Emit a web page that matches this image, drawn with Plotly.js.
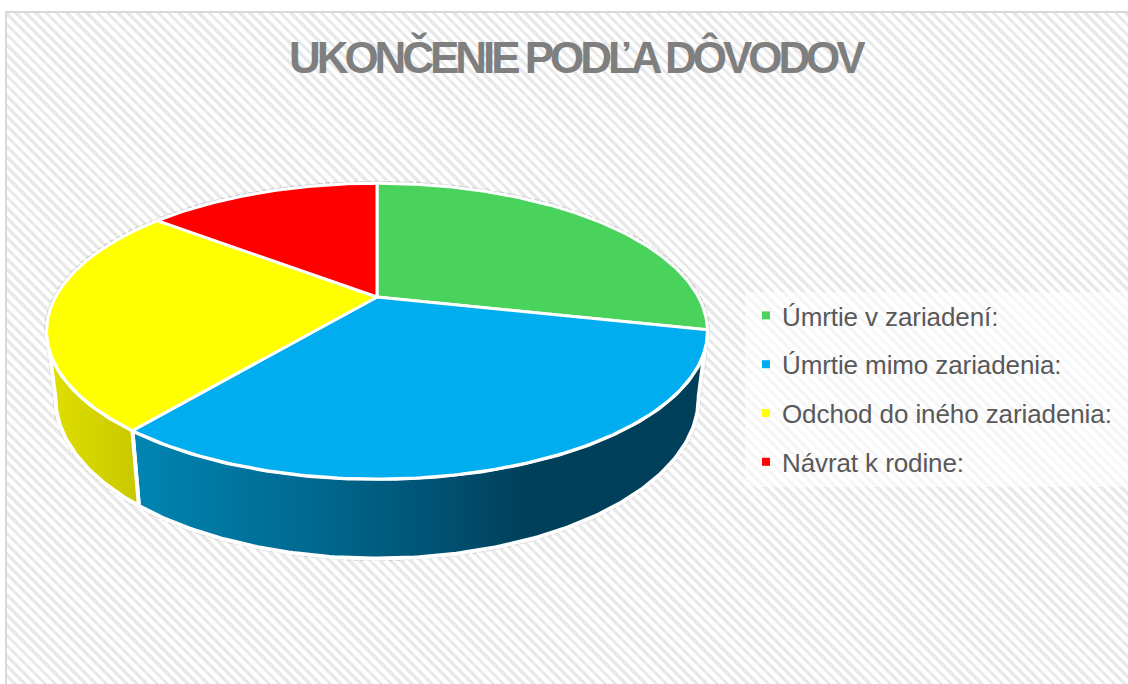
<!DOCTYPE html>
<html><head><meta charset="utf-8">
<script src="https://cdn.plot.ly/plotly-3.0.1.min.js"></script>
<style>
html,body{margin:0;padding:0;background:#fff;overflow:hidden}
#frame{position:absolute;left:5px;top:11px;width:1123px;height:673px;border:2px solid #d9d9d9;border-right:none;border-bottom:none;box-sizing:border-box;
background:repeating-linear-gradient(45deg,#ffffff 0,#ffffff 3.9px,#e9e9e9 3.9px,#e9e9e9 7.2px);}
#chart{position:absolute;left:0;top:0;width:1128px;height:684px}
.gtitle{letter-spacing:-4.05px}
.legendtext{letter-spacing:-0.1px}
.legend .scatterpts{transform:translate(24px,0)}
</style></head><body>
<div id="frame"></div><div id="chart"></div>
<script>
const categories=["Úmrtie v zariadení:","Úmrtie mimo zariadenia:","Odchod do iného zariadenia:","Návrat k rodine:"];
const values=[8,9,7,4];
const colors=["#49d35c","#00aeef","#ffff00","#ff0000"];
const titleText="UKONČENIE PODĽA DÔVODOV";

// Perspective projection of a tilted disk onto the plot axes
const cx=377,k=0.2308;
const topFace={cy:297,A:321.5,B:140};
const bottomFace={cy:361,A:313,B:152};
function proj(f,deg){
  const a=deg*Math.PI/180,u=Math.sin(a),v=-Math.cos(a),d=1-k*v;
  return [cx+f.A*u/d,f.cy+f.B*v/d];
}
function arc(f,a0,a1){
  const n=Math.max(2,Math.ceil(Math.abs(a1-a0)*1.5)),p=[];
  for(let i=0;i<=n;i++)p.push(proj(f,a0+(a1-a0)*i/n));
  return p;
}
const total=values.reduce((s,v)=>s+v,0);
let acc=0;
const spans=values.map(v=>{const s=[acc,acc+v/total*360];acc=s[1];return s;});

const wallScales={
 1:[[0,"#0085b3"],[0.3,"#006a91"],[0.55,"#005070"],[0.68,"#00405a"],[1,"#003f5a"]],
 2:[[0,"#e0e000"],[1,"#c8c800"]]
};
const traces=[];
const silhouette=360-spans[0][1];
// faint outer outline of the whole solid
const outline=arc(topFace,silhouette,360).concat(arc(topFace,0,spans[0][1]),arc(bottomFace,spans[0][1],silhouette));
outline.push(outline[0]);
traces.push({type:"scatter",mode:"lines",x:outline.map(p=>p[0]),y:outline.map(p=>p[1]),
  line:{color:"rgba(130,130,130,0.35)",width:5,dash:"5px,2px"},hoverinfo:"skip",showlegend:false});
// side walls
[[1,spans[1][0],spans[1][1]],[2,spans[2][0],silhouette]].forEach(([i,a0,a1])=>{
  const pts=arc(topFace,a0,a1).concat(arc(bottomFace,a1,a0));
  pts.push(pts[0]);
  traces.push({type:"scatter",mode:"lines",x:pts.map(p=>p[0]),y:pts.map(p=>p[1]),fill:"toself",
    line:{color:"#ffffff",width:4},hoverinfo:"skip",showlegend:false,
    fillcolor:colors[i],
    fillgradient:{type:"horizontal",colorscale:wallScales[i]}});
});
// top face wedges
spans.forEach((s,i)=>{
  const pts=[[cx,topFace.cy]].concat(arc(topFace,s[0],s[1]));
  pts.push([cx,topFace.cy]);
  traces.push({type:"scatter",mode:"lines",x:pts.map(p=>p[0]),y:pts.map(p=>p[1]),fill:"toself",
    fillcolor:colors[i],line:{color:"#ffffff",width:3},name:categories[i],hoverinfo:"name",showlegend:false});
});
// legend entries
categories.forEach((c,i)=>{
  traces.push({type:"scatter",mode:"markers",x:[null],y:[null],name:c,legendgroup:"g"+i,
    marker:{symbol:"square",size:8,color:colors[i]},showlegend:true});
});
const layout={width:1128,height:684,margin:{l:0,r:0,t:0,b:0},
 paper_bgcolor:"rgba(0,0,0,0)",plot_bgcolor:"rgba(0,0,0,0)",
 xaxis:{range:[0,1128],visible:false,fixedrange:true},
 yaxis:{range:[684,0],visible:false,fixedrange:true},
 title:{text:titleText,x:0.51,xanchor:"center",y:0.916,yanchor:"middle",
   font:{family:"Liberation Sans",size:44,color:"#7f7f7f",weight:700}},
 shapes:[{type:"rect",xref:"x",yref:"y",x0:745,x1:1128,y0:292,y1:487,line:{width:0},fillcolor:"rgba(255,255,255,0.6)",layer:"below"}],
 legend:{x:742/1128,xanchor:"left",y:1-292/684,yanchor:"top",
   bgcolor:"rgba(0,0,0,0)",borderwidth:0,tracegroupgap:12,
   font:{family:"Liberation Sans",size:26,color:"#595959"},itemsizing:"trace",itemclick:false,itemdoubleclick:false},
 showlegend:true};
Plotly.newPlot("chart",traces,layout,{displayModeBar:false,responsive:false});
</script></body></html>
